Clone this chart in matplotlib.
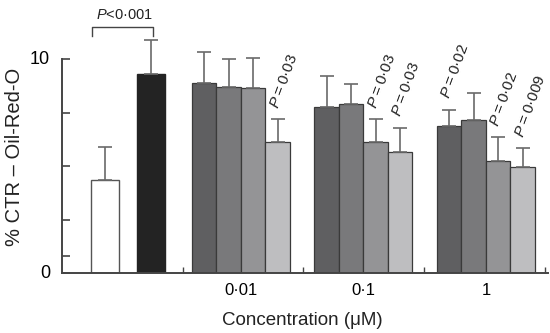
import matplotlib
matplotlib.use("Agg")
import matplotlib.pyplot as plt
import numpy as np

plt.rcParams['font.family'] = ['Liberation Sans', 'DejaVu Sans']
plt.rcParams['mathtext.fontset'] = 'custom'
plt.rcParams['mathtext.it'] = 'Liberation Sans:italic'
plt.rcParams['mathtext.rm'] = 'Liberation Sans'

# ---- data ----
control_values = [4.35, 9.28]          # untreated (white), treated (black)
control_errors = [1.55, 1.62]
concentrations = ['0·01', '0·1', '1']
group_values = [
    [8.86, 8.71, 8.63, 6.11],
    [7.77, 7.88, 6.11, 5.67],
    [6.87, 7.15, 5.23, 4.97],
]
group_errors = [
    [1.47, 1.27, 1.40, 1.07],
    [1.43, 0.94, 1.07, 1.12],
    [0.75, 1.25, 1.11, 0.86],
]
p_labels = [
    [None, None, None, '0·03'],
    [None, None, '0·03', '0·03'],
    ['0·02', None, '0·02', '0·009'],
]
bracket_label = '0·001'
bar_colors = ['#5f5f61', '#79797b', '#949496', '#bebec0']

# ---- figure ----
W, H = 550, 333
fig = plt.figure(figsize=(W / 100, H / 100), dpi=100)
px_per_unit_y = 21.4
ax_left_px, ax_right_px, ax_bottom_px, ax_top_px = 62, 548, 273, 5
ax = fig.add_axes([ax_left_px / W, 1 - ax_bottom_px / H,
                   (ax_right_px - ax_left_px) / W, (ax_bottom_px - ax_top_px) / H])
bw_px = 24.5
x0_px = 192
ax.set_xlim((ax_left_px - x0_px) / bw_px, (ax_right_px - x0_px) / bw_px)
ax.set_ylim(0, (ax_bottom_px - ax_top_px) / px_per_unit_y)

edge = '#3a3a3a'
errc = '#6a6a6a'
# control bars
ctrl_x = [(105 - x0_px) / bw_px, (151 - x0_px) / bw_px]
ax.bar(ctrl_x, control_values, width=1.15, color=['white', '#232323'],
       edgecolor=['#555555', '#232323'], linewidth=1.0, zorder=2)
ax.errorbar(ctrl_x, control_values,
            yerr=[np.zeros(2), control_errors], fmt='none',
            ecolor=errc, elinewidth=1.2, capsize=4.7, capthick=1.2, zorder=3)

group_gap = 5
for gi, (vals, errs) in enumerate(zip(group_values, group_errors)):
    xs = gi * group_gap + np.arange(4) + 0.5
    ax.bar(xs, vals, width=1.0, color=bar_colors, edgecolor=edge,
           linewidth=0.9, zorder=2)
    ax.errorbar(xs, vals, yerr=[np.zeros(4), errs], fmt='none',
                ecolor=errc, elinewidth=1.2, capsize=4.7, capthick=1.2, zorder=3)
    for xi, v, e, lab in zip(xs, vals, errs, p_labels[gi]):
        if lab:
            txt = '$\\mathit{P}$\u2009=\u2009' + lab
            ax.text(xi, v + e + 0.48, txt, rotation=70, rotation_mode='anchor',
                    ha='left', va='baseline', fontsize=11, color='#222222')

# bracket
bx1, bx2 = (92 - x0_px) / bw_px, (153 - x0_px) / bw_px
by_top, by_bot = (273 - 27) / px_per_unit_y, (273 - 36) / px_per_unit_y
ax.plot([bx1, bx1, bx2, bx2], [by_bot, by_top, by_top, by_bot],
        color='#444444', lw=1.0, clip_on=False)
ax.text((bx1 + bx2) / 2 + 0.08, by_top + 0.25, '$\\mathit{P}$<' + bracket_label,
        ha='center', va='bottom', fontsize=10.5, color='#222222')

# axes styling
for s in ['top', 'right']:
    ax.spines[s].set_visible(False)
ax.spines['left'].set_bounds(0, 10)
for s in ['left', 'bottom']:
    ax.spines[s].set_color('#444444')
    ax.spines[s].set_linewidth(1.4)

ax.set_yticks([0, 10])
ax.set_yticklabels(['0', '10'])
ax.set_yticks([0.8, 2.5, 5, 7.5], minor=True)
ax.tick_params(axis='y', which='both', direction='in', length=6, width=1.2,
               color='#444444', labelsize=13, pad=8.5)
for lab in ax.get_yticklabels():
    lab.set_verticalalignment('center')

centers = [gi * group_gap + 2 for gi in range(3)]
ax.set_xticks(centers)
ax.set_xticklabels(concentrations)
seps = [-0.37, 4.53, 9.47, 14.41]
ax.set_xticks(seps, minor=True)
ax.tick_params(axis='x', which='major', length=0, labelsize=12, pad=7.5)
ax.tick_params(axis='x', which='minor', direction='in', length=4, width=1.0,
               color='#444444')

fig.text(20 / W, 1 - 157 / H, '% CTR – Oil-Red-O', rotation=90,
         rotation_mode='anchor', ha='center', va='baseline',
         fontsize=14.5, color='#222222')
fig.text(302 / W, 1 - 325 / H, 'Concentration (μM)', ha='center',
         va='baseline', fontsize=13.5, color='#222222')

fig.savefig('out.png', dpi=100)
